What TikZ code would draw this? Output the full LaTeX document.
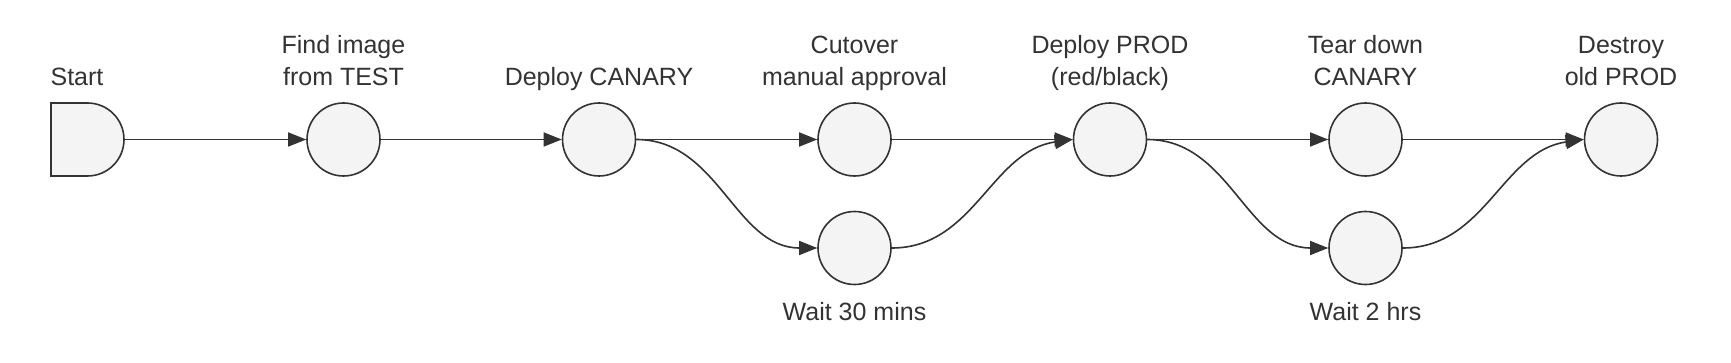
\documentclass[tikz,border=0pt]{standalone}
\usepackage{fontspec}
\setmainfont{Liberation Sans}
\usetikzlibrary{arrows.meta,shapes.misc}
\definecolor{ln}{HTML}{333333}
\definecolor{fl}{HTML}{F4F4F4}
\definecolor{tx}{HTML}{333333}
\begin{document}
\begin{tikzpicture}[x=1pt,y=-1pt,
 stage/.style={circle,draw=ln,fill=fl,line width=1.6pt,minimum size=73pt,inner sep=0pt},
 startbox/.style={rounded rectangle,rounded rectangle west arc=none,draw=ln,fill=fl,line width=1.6pt,minimum width=73pt,minimum height=73pt,inner sep=0pt},
 lbl/.style={text=tx,font=\fontsize{25}{32.3}\selectfont,align=center,inner sep=0pt,text depth=0pt,anchor=south},
 edge/.style={draw=ln,line width=1.6pt,-{Triangle[length=18pt,width=14pt]}}
]
\useasboundingbox (0,0) rectangle (1731,363);
\fill[white] (0,0) rectangle (1731,363);

\node[startbox] (start) at (87.5,139.5) {};
\node[stage] (find) at (343.5,139.5) {};
\node[stage] (canary) at (599,139.5) {};
\node[stage] (cutover) at (854.5,139.5) {};
\node[stage] (wait1) at (854.5,248) {};
\node[stage] (prod) at (1110,139.5) {};
\node[stage] (tear) at (1365.5,139.5) {};
\node[stage] (wait2) at (1365.5,248) {};
\node[stage] (destroy) at (1621,139.5) {};

\node[lbl] (lstart) at (77,86) {Start};
\node[lbl] (lfind) at (343.5,86) {Find image\\from TEST};
\node[lbl] (lcanary) at (599,86) {Deploy CANARY};
\node[lbl] (lcutover) at (854.5,86) {Cutover\\manual approval};
\node[lbl] (lwait1) at (854.5,320.5) {Wait 30 mins};
\node[lbl] (lprod) at (1110,86) {Deploy PROD\\(red/black)};
\node[lbl] (ltear) at (1365.5,86) {Tear down\\CANARY};
\node[lbl] (lwait2) at (1365.5,320.5) {Wait 2 hrs};
\node[lbl] (ldestroy) at (1621,86) {Destroy\\old PROD};

\draw[edge] (start.east) -- (find.west);
\draw[edge] (find.east) -- (canary.west);
\draw[edge] (canary.east) -- (cutover.west);
\draw[edge] (canary.east) to[out=0,in=180] (wait1.west);
\draw[edge] (cutover.east) -- (prod.west);
\draw[edge] (wait1.east) to[out=0,in=188] (prod.west);
\draw[edge] (prod.east) -- (tear.west);
\draw[edge] (prod.east) to[out=0,in=180] (wait2.west);
\draw[edge] (tear.east) -- (destroy.west);
\draw[edge] (wait2.east) to[out=0,in=188] (destroy.west);
\end{tikzpicture}
\end{document}
